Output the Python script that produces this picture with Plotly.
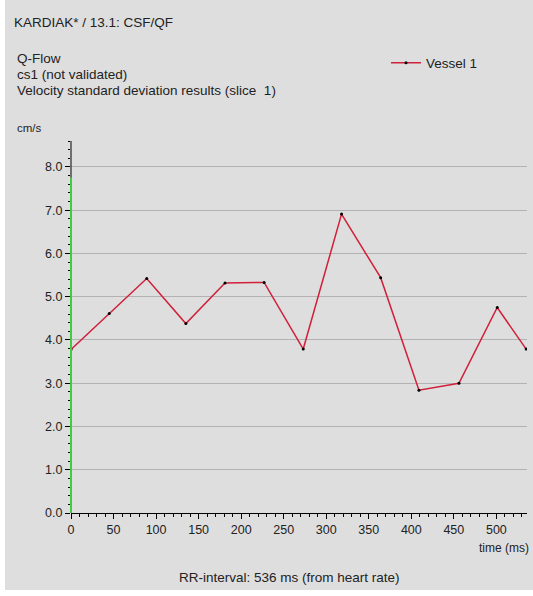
import plotly.graph_objects as go

# Velocity standard deviation over the cardiac cycle (Vessel 1)
time_ms = [0, 45, 89, 135, 181, 227, 273, 318, 364, 409, 456, 501, 535]
velocity_sd = [3.78, 4.61, 5.42, 4.38, 5.32, 5.33, 3.79, 6.91, 5.44, 2.84, 3.00, 4.75, 3.79]
series_name = "Vessel 1"

y_ticks = [0, 1, 2, 3, 4, 5, 6, 7, 8]
x_ticks = [0, 50, 100, 150, 200, 250, 300, 350, 400, 450, 500]
y_max = 8.6
green_top = 7.75

W, H = 533, 596
ML, MR, MT, MB = 71, 6, 141, 83
PW, PH = W - ML - MR, H - MT - MB

def px(x):
    return (x - ML) / PW

def py(y):
    return (H - MB - y) / PH

BG = "#dedede"
FONT = "Liberation Sans, Arial, sans-serif"
TXT = "#222222"

fig = go.Figure()
fig.add_trace(go.Scatter(
    x=time_ms, y=velocity_sd, name=series_name,
    mode="lines+markers",
    line=dict(color="#d0203a", width=1.5),
    marker=dict(color="black", size=3),
))

shapes = [
    # gray panel with a thin light border on the left and bottom
    dict(type="rect", xref="paper", yref="paper",
         x0=px(5), x1=px(W + 5), y0=py(590), y1=py(-5),
         fillcolor=BG, line=dict(width=0), layer="below"),
    # y axis line: green up to 7.75, black above
    dict(type="line", xref="paper", yref="paper", x0=0, x1=0,
         y0=0, y1=green_top / y_max,
         line=dict(color="#3fcc3f", width=2), layer="above"),
    dict(type="line", xref="paper", yref="paper", x0=0, x1=0,
         y0=green_top / y_max, y1=1,
         line=dict(color="black", width=1), layer="above"),
]

annotations = [
    dict(text="KARDIAK* / 13.1: CSF/QF", x=px(12), y=py(22)),
    dict(text="Q-Flow", x=px(15), y=py(59)),
    dict(text="cs1 (not validated)", x=px(15), y=py(75)),
    dict(text="Velocity standard deviation results (slice  1)", x=px(15), y=py(91)),
]
annotations = [dict(a, xref="paper", yref="paper", xanchor="left", yanchor="middle",
                    showarrow=False, font=dict(size=13.5, color=TXT, family=FONT))
               for a in annotations]
annotations += [
    dict(text="cm/s", x=px(29), y=py(128), xref="paper", yref="paper",
         xanchor="center", yanchor="middle", showarrow=False,
         font=dict(size=11.5, color=TXT, family=FONT)),
    dict(text="time (ms)", x=px(504), y=py(548), xref="paper", yref="paper",
         xanchor="center", yanchor="middle", showarrow=False,
         font=dict(size=12, color=TXT, family=FONT)),
    dict(text="RR-interval: 536 ms (from heart rate)", x=px(289), y=py(577),
         xref="paper", yref="paper", xanchor="center", yanchor="middle",
         showarrow=False, font=dict(size=13.5, color=TXT, family=FONT)),
]

fig.update_layout(
    width=W, height=H, autosize=False,
    margin=dict(l=ML, r=MR, t=MT, b=MB, pad=0),
    paper_bgcolor="white", plot_bgcolor=BG,
    font=dict(family=FONT, size=12, color=TXT),
    showlegend=True,
    legend=dict(x=px(386), y=py(63), xanchor="left", yanchor="middle",
                bgcolor="rgba(0,0,0,0)", font=dict(size=13.5, color=TXT, family=FONT)),
    shapes=shapes, annotations=annotations,
    xaxis=dict(range=[0, 536], tickvals=x_ticks, ticks="outside", ticklen=5,
               tickcolor="black", showgrid=False, zeroline=False,
               showline=True, linecolor="black", linewidth=1,
               minor=dict(dtick=10, ticks="outside", ticklen=3, tickcolor="black"),
               tickfont=dict(size=12.5, color=TXT, family=FONT)),
    yaxis=dict(range=[0, y_max], tickvals=y_ticks, tickformat=".1f",
               ticks="outside", ticklen=5, tickcolor="black",
               showgrid=True, gridcolor="#b2b2b2", gridwidth=1,
               zeroline=False, showline=False,
               minor=dict(dtick=0.2, ticks="outside", ticklen=2, tickcolor="black",
                          showgrid=False),
               tickfont=dict(size=12.5, color=TXT, family=FONT)),
)

fig.write_html("out.html")
